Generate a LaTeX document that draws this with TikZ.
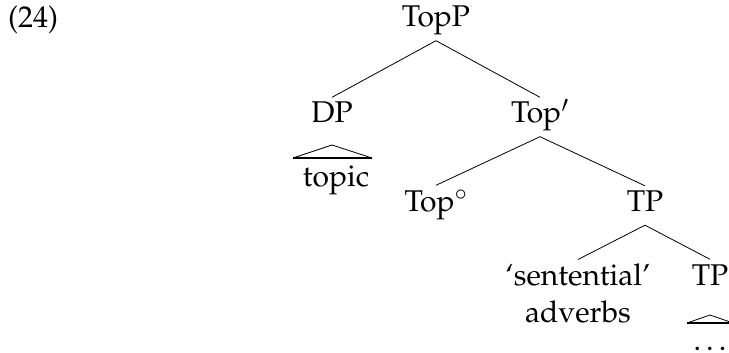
\documentclass[tikz,border=0pt]{standalone}
\usepackage[T1]{fontenc}
\usepackage{mathpazo}
\tikzset{
  lbl/.style={font=\fontsize{30}{37}\selectfont, inner xsep=0pt, inner ysep=4.5pt,
              text height=21pt, text depth=9pt, anchor=base},
  multi/.style={font=\fontsize{30}{37}\selectfont, inner xsep=0pt, inner ysep=4pt,
              align=center, anchor=north},
  branch/.style={line width=0.8pt},
  roofbase/.style={line width=2.6pt},
}
\begin{document}
\begin{tikzpicture}[x=1pt,y=-1pt]
\useasboundingbox (0,0) rectangle (729,353);
\clip (0,0) rectangle (729,353);
\node[lbl, anchor=base west] (ex) at (8,28) {(24)};
\node[lbl] (topp) at (436,27) {TopP};
\node[lbl] (dp) at (332,123) {DP};
\node[lbl] (topbar) at (540,123) {Top$'$};
\node[lbl] (topic) at (336,186) {topic};
\node[lbl] (topo) at (436,211) {Top$^\circ$};
\node[lbl] (tp1) at (645,211.5) {TP};
\node[multi] (adv) at (578,259.5) {`sentential'\\adverbs};
\node[lbl] (tp2) at (710,285) {TP};
\node[lbl, inner ysep=0pt, text depth=0pt, text height=6pt] (dots) at (710,350) {.\kern0.17em.\kern0.17em.};
% branches
\draw[branch] (topp.south) -- (dp.north);
\draw[branch] (topp.south) -- (topbar.north);
\draw[branch] (topbar.south) -- (topo.north);
\draw[branch] (topbar.south) -- (tp1.north);
\draw[branch] (tp1.south) -- (adv.north);
\draw[branch] (tp1.south) -- (tp2.north);
% roofs
\coordinate (r1l) at (293,158);
\coordinate (r1a) at (332,145);
\coordinate (r1r) at (372,158);
\draw[branch] (r1l) -- (r1a) -- (r1r);
\draw[roofbase] (r1l) -- (r1r);
\coordinate (r2l) at (687,323);
\coordinate (r2a) at (710,315);
\coordinate (r2r) at (733,323);
\draw[branch] (r2l) -- (r2a) -- (r2r);
\draw[roofbase] (r2l) -- (r2r);
\end{tikzpicture}
\end{document}
